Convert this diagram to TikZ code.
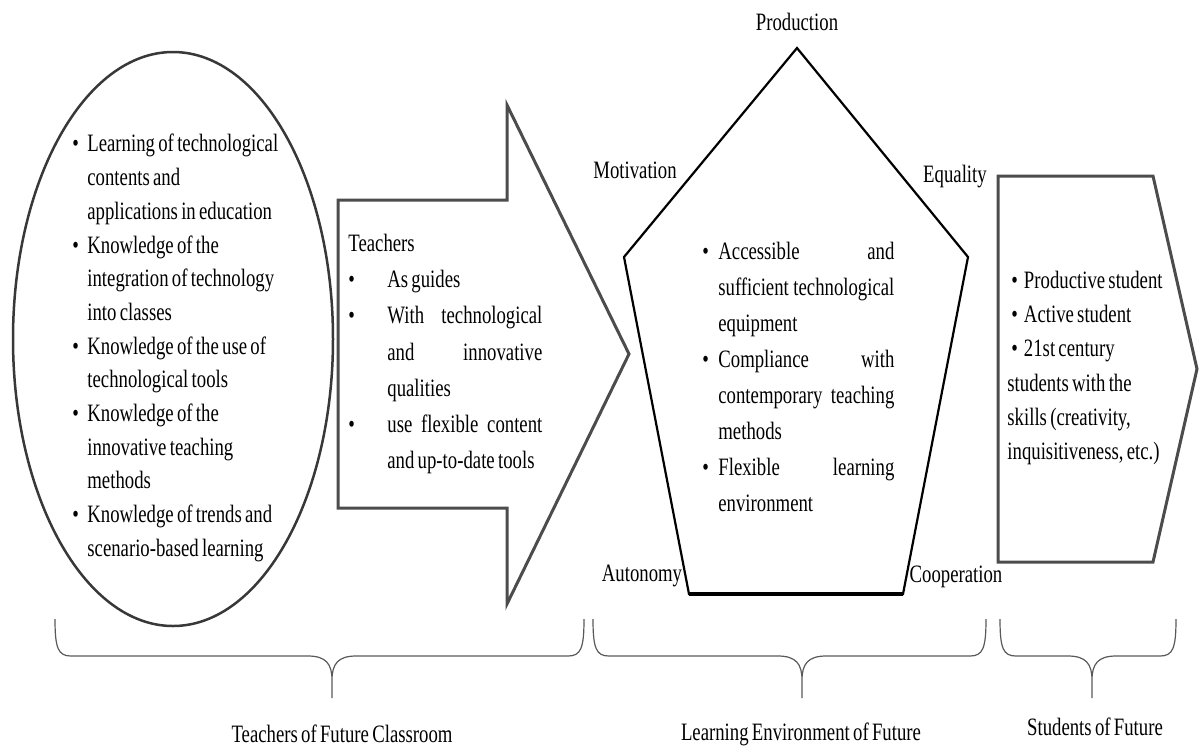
\documentclass[tikz,border=0pt]{standalone}
\usepackage{fontspec}
\setmainfont{Liberation Serif}[FakeStretch=0.75,WordSpace=0.7]
\usetikzlibrary{shapes.geometric}
\usetikzlibrary{positioning}
\tikzstyle{frame} = [draw=black!70, line width=1.5pt, line join=miter]
\tikzstyle{pent} = [draw=black, line width=1.1pt, line join=miter]
\tikzstyle{txt} = [inner sep=0pt, font=\fontsize{12.5}{16.85}\selectfont]
\tikzstyle{corner} = [inner sep=0pt, font=\fontsize{12.5}{15}\selectfont]
\tikzstyle{bracket} = [draw=black!65, line width=0.6pt]
% bullet item with hanging indent
\newcommand{\bitem}[2]{\par\noindent\hangindent=#1\hangafter=1\makebox[#1][l]{\textbullet}#2\par}
% curly brace under a group: left x, right x, tip x
\newcommand{\futurebrace}[3]{%
  \draw[bracket] (#1,619) .. controls (#1,648) and (#1+3,656) .. (#1+16,656)
    -- (#3-24,656) .. controls (#3-6,656) and (#3,664) .. (#3,680) -- (#3,698)
    (#3,680) .. controls (#3,664) and (#3+6,656) .. (#3+24,656)
    -- (#2-16,656) .. controls (#2-3,656) and (#2,648) .. (#2,619);}

\begin{document}
\begin{tikzpicture}[x=0.5pt,y=-0.5pt]
    \useasboundingbox (0,0) rectangle (1200,746);
    % Teachers
    \node[ellipse, draw=black!78, line width=1.25pt, minimum width=160pt,
          minimum height=287pt, inner sep=0pt] (teach) at (173,339) {};
    \node[txt, text width=110pt, align=flush left, anchor=west] (teachlist) at (72,340) {%
      \bitem{7.5pt}{Learning of technological\newline contents and\newline applications in education}
      \bitem{7.5pt}{Knowledge of the\newline integration of technology\newline into classes}
      \bitem{7.5pt}{Knowledge of the use of\newline technological tools}
      \bitem{7.5pt}{Knowledge of the\newline innovative teaching\newline methods}
      \bitem{7.5pt}{Knowledge of trends and\newline scenario-based learning}};
    \draw[frame] (338,200) -- (507,200) -- (507,105) -- (629,354) -- (507,604)
      -- (507,508) -- (338,508) -- cycle;
    \node[txt, font=\fontsize{12.5}{18.15}\selectfont, text width=97pt, align=justify,
          anchor=west] (roles) at (348,354) {%
      Teachers
      \bitem{19.5pt}{As guides}
      \bitem{19.5pt}{With technological\linebreak and innovative\linebreak qualities}
      \bitem{19.5pt}{use flexible content\linebreak and up-to-date tools}};
    % Learning environment
    \coordinate (prod) at (797,48);
    \coordinate (equal) at (968,257);
    \coordinate (coop) at (903,594);
    \coordinate (auto) at (689,594);
    \coordinate (motiv) at (624,257);
    \draw[pent] (prod) -- (equal) -- (coop) -- (auto) -- (motiv) -- cycle;
    \draw[pent, line width=2pt] (auto) -- (coop);
    \node[corner] (prodlbl) at (797,22) {Production};
    \node[corner] (motivlbl) at (635,170) {Motivation};
    \node[corner] (equallbl) at (955,177) {Equality};
    \node[corner] (autolbl) at (642,576) {Autonomy};
    \node[corner] (cooplbl) at (956,577) {Cooperation};
    \node[txt, font=\fontsize{12.5}{18}\selectfont, text width=96pt, align=justify,
          anchor=west] (envlist) at (702,368) {%
      \bitem{8pt}{Accessible and\linebreak sufficient technological\linebreak equipment}
      \bitem{8pt}{Compliance with\linebreak contemporary teaching\linebreak methods}
      \bitem{8pt}{Flexible learning\linebreak environment}};
    % Students
    \draw[frame] (998,176) -- (1153,176) -- (1197,369) -- (1153,562) -- (998,562) -- cycle;
    \node[txt, font=\fontsize{12.5}{17.1}\selectfont, text width=90pt, align=flush left,
          anchor=west] (studlist) at (1007,368) {%
      \hspace{2pt}\textbullet\hspace{3pt}Productive student\\
      \hspace{2pt}\textbullet\hspace{3pt}Active student\\
      \hspace{2pt}\textbullet\hspace{3pt}21st century\\
      students with the\\
      skills (creativity,\\
      inquisitiveness, etc.)};
    % Braces
    \futurebrace{55}{584}{332}
    \futurebrace{593}{986}{802}
    \futurebrace{1000}{1176}{1092}
    \node[corner] (teachcap) at (342,734) {Teachers of Future Classroom};
    \node[corner] (envcap) at (801,734) {Learning Environment of Future};
    \node[corner] (studcap) at (1095,727) {Students of Future};
\end{tikzpicture}
\end{document}
